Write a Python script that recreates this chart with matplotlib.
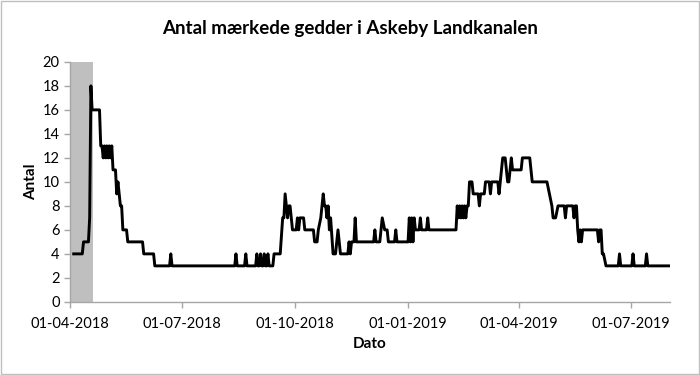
import matplotlib

matplotlib.use("Agg")
import matplotlib.pyplot as plt
import matplotlib.dates as mdates
import pandas as pd
from matplotlib.patches import Rectangle

plt.rcParams["font.family"] = ["Lato", "DejaVu Sans"]

# day-by-day count of tagged pike, given at the points where the curve turns
dates = [
    "2018-04-04", "2018-04-11", "2018-04-12", "2018-04-16", "2018-04-17",
    "2018-04-18", "2018-04-19", "2018-04-25", "2018-04-26", "2018-04-27",
    "2018-04-28", "2018-04-29", "2018-04-30", "2018-05-01", "2018-05-02",
    "2018-05-03", "2018-05-04", "2018-05-05", "2018-05-06", "2018-05-08",
    "2018-05-09", "2018-05-10", "2018-05-11", "2018-05-12", "2018-05-13",
    "2018-05-14", "2018-05-17", "2018-05-18", "2018-05-30", "2018-05-31",
    "2018-06-08", "2018-06-09", "2018-06-21", "2018-06-22", "2018-06-23",
    "2018-08-13", "2018-08-14", "2018-08-15", "2018-08-21", "2018-08-22",
    "2018-08-23", "2018-08-30", "2018-08-31", "2018-09-01", "2018-09-02",
    "2018-09-03", "2018-09-04", "2018-09-05", "2018-09-06", "2018-09-07",
    "2018-09-08", "2018-09-09", "2018-09-10", "2018-09-13", "2018-09-14",
    "2018-09-19", "2018-09-21", "2018-09-22", "2018-09-23", "2018-09-24",
    "2018-09-25", "2018-09-26", "2018-09-27", "2018-09-29", "2018-10-02",
    "2018-10-03", "2018-10-04", "2018-10-05", "2018-10-08", "2018-10-09",
    "2018-10-16", "2018-10-17", "2018-10-19", "2018-10-20", "2018-10-22",
    "2018-10-24", "2018-10-25", "2018-10-26", "2018-10-27", "2018-10-28",
    "2018-10-29", "2018-10-30", "2018-11-01", "2018-11-03", "2018-11-05",
    "2018-11-07", "2018-11-13", "2018-11-14", "2018-11-15", "2018-11-16",
    "2018-11-18", "2018-11-19", "2018-11-20", "2018-12-04", "2018-12-05",
    "2018-12-06", "2018-12-09", "2018-12-10", "2018-12-11", "2018-12-13",
    "2018-12-15", "2018-12-16", "2018-12-21", "2018-12-22", "2018-12-23",
    "2019-01-01", "2019-01-02", "2019-01-03", "2019-01-04", "2019-01-05",
    "2019-01-06", "2019-01-07", "2019-01-10", "2019-01-11", "2019-01-12",
    "2019-01-16", "2019-01-17", "2019-01-18", "2019-02-09", "2019-02-10",
    "2019-02-11", "2019-02-12", "2019-02-13", "2019-02-14", "2019-02-15",
    "2019-02-16", "2019-02-17", "2019-02-18", "2019-02-19", "2019-02-20",
    "2019-02-22", "2019-02-23", "2019-02-27", "2019-02-28", "2019-03-01",
    "2019-03-04", "2019-03-05", "2019-03-08", "2019-03-09", "2019-03-10",
    "2019-03-15", "2019-03-16", "2019-03-17", "2019-03-18", "2019-03-19",
    "2019-03-21", "2019-03-22", "2019-03-23", "2019-03-24", "2019-03-26",
    "2019-03-27", "2019-04-03", "2019-04-04", "2019-04-10", "2019-04-12",
    "2019-04-24", "2019-04-26", "2019-04-28", "2019-04-29", "2019-05-01",
    "2019-05-03", "2019-05-08", "2019-05-09", "2019-05-10", "2019-05-15",
    "2019-05-16", "2019-05-17", "2019-05-18", "2019-05-19", "2019-05-20",
    "2019-05-21", "2019-05-22", "2019-05-23", "2019-06-04", "2019-06-05",
    "2019-06-06", "2019-06-07", "2019-06-08", "2019-06-09", "2019-06-11",
    "2019-06-21", "2019-06-22", "2019-06-23", "2019-07-02", "2019-07-03",
    "2019-07-04", "2019-07-13", "2019-07-14", "2019-07-15", "2019-08-02",
]
counts = [
    4, 4, 5, 5, 7,
    18, 16, 16, 13, 13,
    12, 13, 12, 13, 12,
    13, 12, 13, 11, 11,
    9, 10, 9, 8, 8,
    6, 6, 5, 5, 4,
    4, 3, 3, 4, 3,
    3, 4, 3, 3, 4,
    3, 3, 4, 3, 3,
    4, 3, 3, 4, 3,
    3, 4, 3, 3, 4,
    4, 7, 7, 9, 8,
    7, 8, 8, 6, 6,
    7, 6, 7, 7, 6,
    6, 5, 5, 6, 7,
    9, 8, 8, 7, 8,
    6, 7, 4, 4, 6,
    4, 4, 5, 4, 5,
    5, 7, 5, 5, 6,
    5, 5, 6, 7, 6,
    6, 5, 5, 6, 5,
    5, 7, 5, 7, 5,
    7, 6, 6, 7, 6,
    6, 7, 6, 6, 8,
    7, 8, 7, 8, 7,
    8, 7, 8, 8, 10,
    10, 9, 9, 8, 9,
    9, 10, 10, 9, 10,
    10, 9, 10, 11, 12,
    12, 11, 10, 10, 12,
    11, 11, 12, 12, 10,
    10, 9, 8, 7, 7,
    8, 8, 7, 8, 8,
    7, 8, 8, 6, 5,
    6, 5, 6, 6, 5,
    6, 6, 4, 4, 3,
    3, 4, 3, 3, 4,
    3, 3, 4, 3, 3,
]

# tagging period shaded grey
shade_start = "2018-04-01"
shade_end = "2018-04-20"

x_start = "2018-04-01"
x_end = "2019-08-02"
tick_dates = ["2018-04-01", "2018-07-01", "2018-10-01", "2019-01-01", "2019-04-01", "2019-07-01"]

fig = plt.figure(figsize=(7, 3.75), dpi=100)
ax = fig.add_axes([0.1, 0.195, 0.857, 0.64])

ax.axvspan(pd.Timestamp(shade_start), pd.Timestamp(shade_end), color="#bfbfbf", lw=0, zorder=1)
ax.plot(pd.to_datetime(dates), counts, color="black", lw=2.1, zorder=3)

ax.set_xlim(pd.Timestamp(x_start), pd.Timestamp(x_end))
ax.set_ylim(0, 20)
ax.set_yticks(range(0, 21, 2))
ax.set_xticks(pd.to_datetime(tick_dates))
ax.xaxis.set_major_formatter(mdates.DateFormatter("%d-%m-%Y"))

for side in ("top", "right"):
    ax.spines[side].set_visible(False)
for side in ("left", "bottom"):
    ax.spines[side].set_color("#a6a6a6")
    ax.spines[side].set_linewidth(1.0)
ax.tick_params(colors="#a6a6a6", length=4, width=1.0, labelsize=10.5, labelcolor="black")
ax.tick_params(axis="x", pad=7)

fig.text(0.5, 0.925, "Antal mærkede gedder i Askeby Landkanalen",
         fontsize=13.5, fontweight="bold", ha="center", va="center")
ax.set_ylabel("Antal", fontsize=11, fontweight="bold", labelpad=3)
ax.set_xlabel("Dato", fontsize=11, fontweight="bold", labelpad=4)

fig.patches.append(Rectangle((0.002, 0.003), 0.996, 0.994, transform=fig.transFigure,
                             fill=False, edgecolor="#bfbfbf", lw=1.0))

fig.savefig("out.png", dpi=100)
plt.close(fig)
